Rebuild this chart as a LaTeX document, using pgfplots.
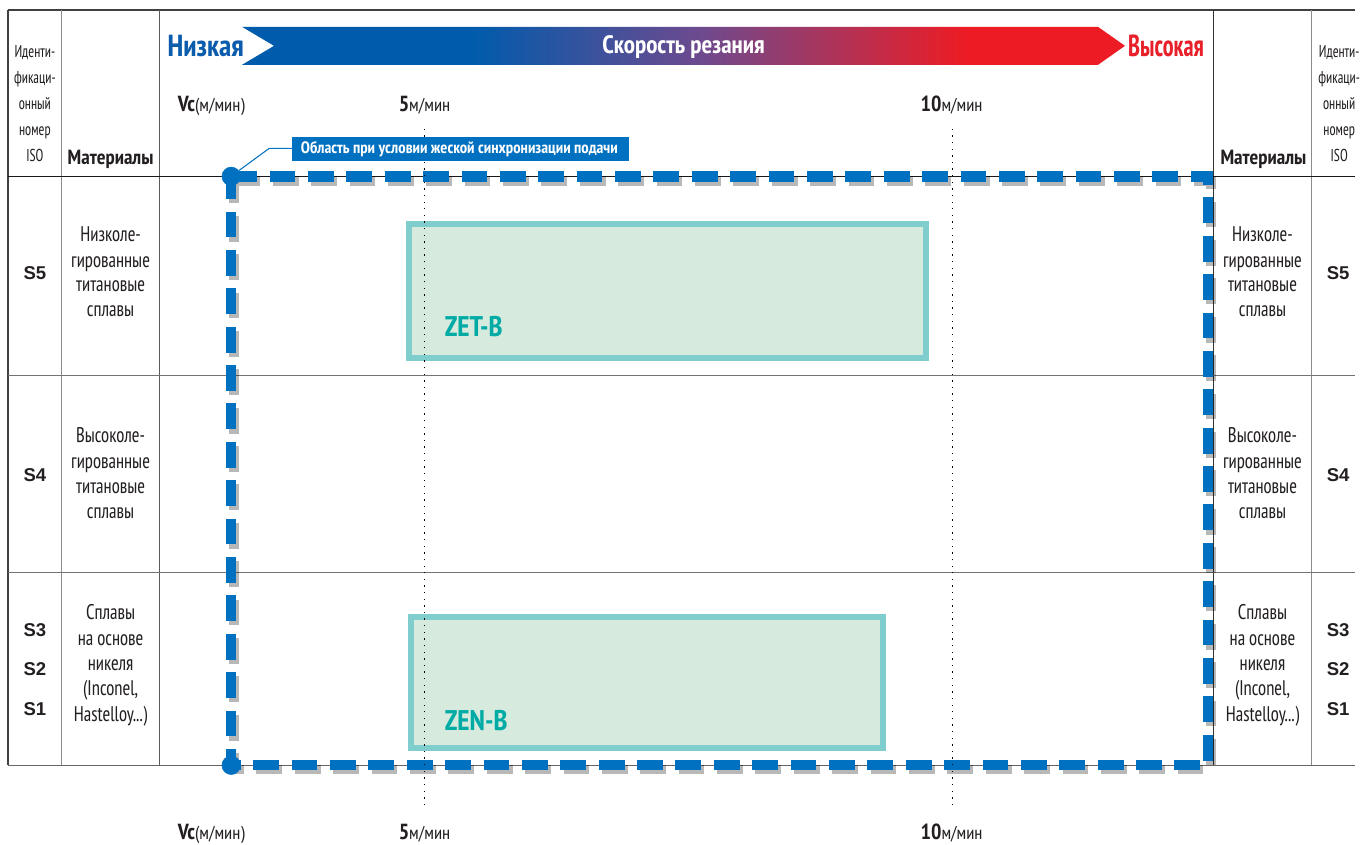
\documentclass[border=0pt]{standalone}
\usepackage{fontspec}
\setmainfont{PT Sans Narrow}
\newfontfamily\arialf{Liberation Sans}
\usepackage{pgfplots}
\pgfplotsset{compat=1.18}
\definecolor{dblue}{HTML}{0070C0}
\definecolor{arrblue}{HTML}{005BAC}
\definecolor{arrpurp}{HTML}{6E4A8E}
\definecolor{arrred}{HTML}{ED1C24}
\definecolor{lowblue}{HTML}{0B5CAD}
\definecolor{highred}{HTML}{E8202A}
\definecolor{boxline}{HTML}{7FCECD}
\definecolor{boxfill}{HTML}{D6EBDD}
\definecolor{tealtxt}{HTML}{00AAA5}
\definecolor{txt}{HTML}{231F20}
\pgfdeclarehorizontalshading{speed}{100bp}{color(0bp)=(arrblue); color(25bp)=(arrblue); color(38bp)=(arrblue); color(51bp)=(arrpurp); color(66bp)=(arrred); color(75bp)=(arrred); color(100bp)=(arrred)}
\newcommand{\mt}{\fontsize{16}{18}\selectfont}
\newcommand{\ml}[3]{\node[anchor=base, inner sep=0, font=\mt, text=txt] at (#1,#2) {\scalebox{0.88}[1]{#3}};}
\newcommand{\slab}[3]{\node[anchor=base, inner sep=0, font=\arialf\bfseries\fontsize{14}{16}\selectfont, text=txt] at (#1,#2) {#3};}
\newcommand{\iso}[3]{\node[anchor=base, inner sep=0, font=\fontsize{13}{14}\selectfont, text=txt] at (#1,#2) {\scalebox{0.82}[1]{#3}};}
\newcommand{\vlab}[3]{\node[anchor=base, inner sep=0, text=txt] at (#1,#2) {\fontsize{16.5}{18}\selectfont\bfseries #3\fontsize{14}{16}\mdseries\selectfont м/мин};}
\begin{document}
\begin{tikzpicture}
\begin{scope}[x=0.75bp,y=-0.75bp,yshift=636bp]
\useasboundingbox (0,0) rectangle (1360,848);
\fill[white] (0,0) rectangle (1360,848);
\draw[line width=0.9pt, draw=black!75] (8,10) -- (1360,10);
\draw[line width=0.9pt, draw=black!75] (8,10) -- (8,768);
\draw[line width=0.9pt, draw=black!45] (62,10) -- (62,768);
\draw[line width=0.9pt, draw=black!65] (160,10) -- (160,768);
\draw[line width=0.9pt, draw=black!80] (1218,10) -- (1218,768);
\draw[line width=0.9pt, draw=black!45] (1316,10) -- (1316,768);
\draw[line width=1.1pt, draw=black!90] (8,177) -- (1360,177);
\draw[line width=0.8pt, draw=black!55] (8,377) -- (1360,377);
\draw[line width=0.8pt, draw=black!55] (8,575) -- (1360,575);
\draw[line width=0.8pt, draw=black!60] (8,768) -- (1360,768);
\end{scope}
\begin{axis}[at={(0bp,0bp)}, anchor=south west, scale only axis, width=1020bp, height=636bp,
  xmin=0.98113, xmax=13.81132, ymin=0, ymax=848, hide axis, clip=false]
\addplot[draw=boxline, fill=boxfill, line width=4.5pt, line join=miter] coordinates {(4.85,489) (9.75,489) (9.75,623) (4.85,623)} -- cycle;
\addplot[draw=boxline, fill=boxfill, line width=4.5pt, line join=miter] coordinates {(4.87,97) (9.34,97) (9.34,229) (4.87,229)} -- cycle;
\addplot[draw=black, opacity=0.28, line width=7.5pt, dash pattern=on 19.5pt off 9.5pt, transform canvas={shift={(2.4pt,-3.2pt)}}] coordinates {(3.17,671) (12.42,671) (12.42,80) (3.17,80) (3.17,671)};
\addplot[draw=dblue, line width=7.8pt, dash pattern=on 19.5pt off 9.5pt] coordinates {(3.17,671) (12.42,671) (12.42,80) (3.17,80) (3.17,671)};
\addplot[only marks, mark=*, mark size=7pt, color=dblue, mark options={draw=dblue, fill=dblue}] coordinates {(3.17,671) (3.17,80)};
\addplot[black, line width=1pt, dash pattern=on 1pt off 4pt] coordinates {(5,40) (5,723)};
\addplot[black, line width=1pt, dash pattern=on 1pt off 4pt] coordinates {(10,40) (10,723)};
\node[anchor=base west, inner sep=0, font=\bfseries\fontsize{21.5}{22}\selectfont, text=tealtxt] at (axis cs:5.19,510) {ZET-B};
\node[anchor=base west, inner sep=0, font=\bfseries\fontsize{21.5}{22}\selectfont, text=tealtxt] at (axis cs:5.19,115) {ZEN-B};
\end{axis}
\begin{scope}[x=0.75bp,y=-0.75bp,yshift=636bp]
% header arrow
\shade[shading=speed] (243,27) -- (1102,27) -- (1129,46) -- (1102,65) -- (243,65) -- (275,46) -- cycle;
\node[inner sep=0, text=white, font=\bfseries\fontsize{19}{20}\selectfont] at (686,47) {Скорость резания};
\node[anchor=base east, inner sep=0, text=lowblue, font=\bfseries\fontsize{23}{24}\selectfont] at (245,57) {\scalebox{0.97}[1]{Низкая}};
\node[anchor=base west, inner sep=0, text=highred, font=\bfseries\fontsize{23}{24}\selectfont] at (1132,57) {\scalebox{0.8}[1]{Высокая}};
% axis labels
\node[anchor=base, inner sep=0, text=txt] at (212,112) {\fontsize{16.5}{18}\selectfont\bfseries Vc\fontsize{14}{16}\mdseries\selectfont(м/мин)};
\node[anchor=base, inner sep=0, text=txt] at (212,843) {\fontsize{16.5}{18}\selectfont\bfseries Vc\fontsize{14}{16}\mdseries\selectfont(м/мин)};
\vlab{426}{112}{5}
\vlab{955}{112}{10}
\vlab{426}{843}{5}
\vlab{955}{843}{10}
% callout
\draw[dblue, line width=0.8pt] (240,171) -- (270,149) -- (293,149);
\fill[dblue] (293,137) rectangle (631,162);
\node[inner sep=0, text=white, font=\bfseries\fontsize{12.5}{14}\selectfont] at (461,149.5) {Область при условии жеской синхронизации подачи};
% headers
\node[anchor=base, inner sep=0, text=txt, font=\bfseries\fontsize{15.5}{17}\selectfont] at (111,165) {Материалы};
\node[anchor=base, inner sep=0, text=txt, font=\bfseries\fontsize{15.5}{17}\selectfont] at (1268,165) {Материалы};
\foreach \xx in {35,1344}{
\iso{\xx}{58}{Иденти-}
\iso{\xx}{84}{фикаци-}
\iso{\xx}{110}{онный}
\iso{\xx}{136}{номер}
\iso{\xx}{162}{ISO}
}
\foreach \xx/\sx in {111/35,1267/1343}{
\ml{\xx}{242}{Низколе-}
\ml{\xx}{268}{гированные}
\ml{\xx}{293}{титановые}
\ml{\xx}{318}{сплавы}
\slab{\sx}{281}{S5}
\ml{\xx}{444}{Высоколе-}
\ml{\xx}{470}{гированные}
\ml{\xx}{495}{титановые}
\ml{\xx}{520}{сплавы}
\slab{\sx}{483}{S4}
\ml{\xx}{622}{Сплавы}
\ml{\xx}{648}{на основе}
\ml{\xx}{673}{никеля}
\ml{\xx}{698}{(Inconel,}
\ml{\xx}{724}{Hastelloy...)}
\slab{\sx}{639}{S3}
\slab{\sx}{678}{S2}
\slab{\sx}{718}{S1}
}
\end{scope}
\end{tikzpicture}
\end{document}
